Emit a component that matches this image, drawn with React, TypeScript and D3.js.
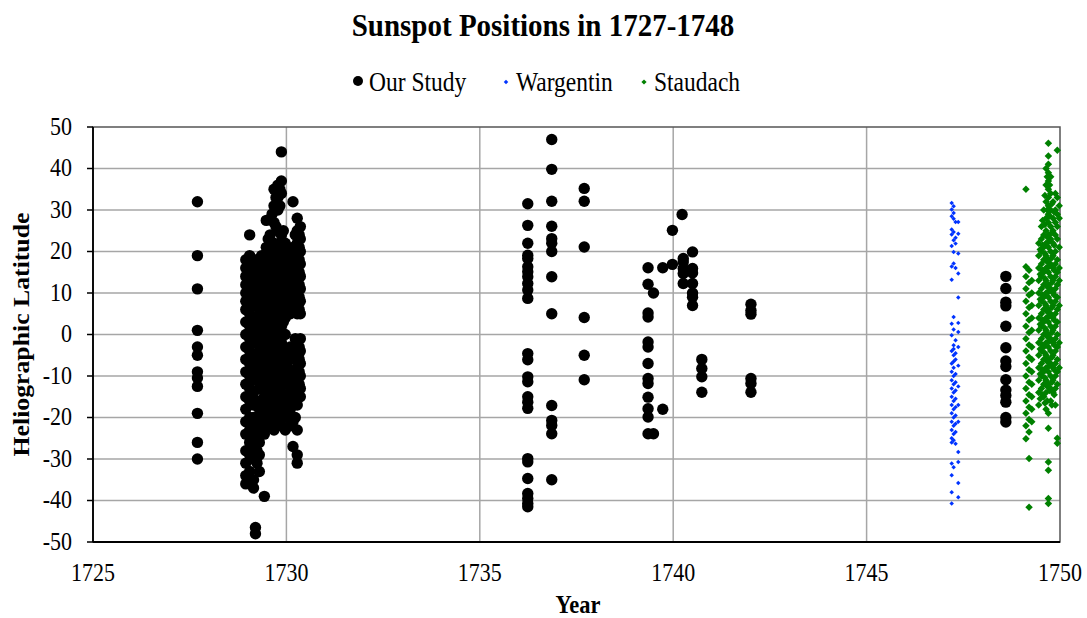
import React from 'react';
import * as d3 from 'd3';

// columns of points: [year, latitudes at that year]
const ourStudy: [number, number[]][] = [
  [1727.7, [32, 19, 11, 1, -3, -5, -9, -10.5, -12.5, -19, -26, -30]],
  [1728.95, [18, 16, 14, 12, 10, 8, 6, 3, 0, -3, -6, -9, -12, -15, -18, -21, -24, -28, -31, -34, -36]],
  [1729.05, [24, 19, 17, 15, 13, 11, 9, 7, 5, 2, -1, -4, -7, -10, -13, -16, -20, -23, -26, -29, -33]],
  [1729.15, [16, 14, 12, 9, 7, 4, 1, -2, -5, -8, -11, -14, -17, -20, -22, -25, -27, -30, -35, -37]],
  [1729.2, [-46.5, -48]],
  [1729.24, [18, 13, 8, 3, -1, -6, -11, -16, -20, -24, -28, -31]],
  [1729.3, [15, 10, 5, 0, -4, -9, -13, -18, -22, -26, -29, -33]],
  [1729.36, [19, 16, 11, 6, 1, -3, -8, -12, -17, -21]],
  [1729.43, [17, 13, 8, 3, -2, -6, -11, -15, -19, -24, -39]],
  [1729.48, [27.5, 21, 18, 14, 10, 6, 2, -3, -7, -11, -16, -20]],
  [1729.53, [23, 16, 12, 8, 4, 0, -5, -9, -13, -18, -22]],
  [1729.58, [24, 19, 16, 12, 9, 5, 1, -2, -6, -9, -13, -17, -21]],
  [1729.63, [29, 21, 17, 14, 10, 7, 3, -1, -4, -8, -11, -15, -19]],
  [1729.68, [35, 31, 27, 22, 19, 15, 12, 8, 4, 0, -4, -8, -12, -16, -19, -23]],
  [1729.73, [33, 26, 20, 16, 12, 9, 5, 2, -2, -6, -10, -14, -18]],
  [1729.78, [36, 33, 30, 25, 21, 17, 13, 10, 6, 3, -1, -5, -9, -13, -17, -21]],
  [1729.83, [35, 31, 22, 18, 15, 12, 8, 4, 0, -3, -7, -11, -15, -19]],
  [1729.87, [44, 37, 34, 24, 20, 17, 14, 11, 8, 5, 2, -2, -6, -10, -14, -18, -22]],
  [1729.92, [25, 21, 18, 15, 12, 9, 6, 3, -4, -8, -12, -16, -20]],
  [1729.97, [22, 19, 16, 13, 10, 7, 4, 0, -7, -11, -15, -19, -23]],
  [1730.03, [21, 18, 15, 12, 9, 6, -4, -8, -12, -16, -20]],
  [1730.1, [20, 17, 14, 11, 8, 5, -3, -6, -10, -14, -18, -22]],
  [1730.17, [32, 21, 16, 12, 9, -5, -9, -13, -17, -21, -27]],
  [1730.23, [24, 18, 15, 10, 6, -1, -6, -12, -16, -20]],
  [1730.28, [28, 25, 22, 19, 16, 13, 10, 7, 5, -2, -5, -8, -11, -14, -17, -23, -29, -31]],
  [1730.33, [24, 21, 18, 15, 12, 9, 6, -3, -6, -9, -12]],
  [1730.36, [26, 23, 20, 17, 14, 11, 8, 5, -1, -4, -7, -10, -13, -15]],
  [1736.24, [31.5, 26.3, 22, 19.1, 18.3, 16.3, 15.1, 13.9, 12.3, 10.7, 8.7, -4.6, -6.1, -10.2, -11.4, -15, -16.3, -17.8, -29.9, -30.7, -34.7, -38.3, -39.5, -40.7, -41.5]],
  [1736.86, [47, 39.8, 32.1, 26.1, 23.1, 22, 20, 13.9, 5, -17.1, -20.7, -21.9, -23.9, -35]],
  [1737.7, [35.2, 32.1, 21.1, 4.1, -5, -10.9]],
  [1739.35, [16.1, 12.1, 5.2, 4.2, -1.8, -3, -7, -10.6, -11.8, -15.1, -17.9, -19.9, -23.9]],
  [1739.49, [10, -23.9]],
  [1739.73, [16.1, -18]],
  [1739.98, [25.1, 16.9]],
  [1740.23, [28.9]],
  [1740.26, [18.3, 17.5, 15.9, 14.7, 12.3]],
  [1740.5, [19.9, 15.9, 14.8, 12.3, 10, 9, 7]],
  [1740.74, [-6, -8.2, -10.2, -13.9]],
  [1742.01, [7.3, 5.8, 4.9, -10.6, -11.8, -13.9]],
  [1748.6, [14, 11.1, 7.8, 6.9, 2, -3.2, -6.4, -7.7, -10.9, -13.4, -14.7, -16.3, -20, -21.1]],
];

const wargentin: [number, number[]][] = [
  [1747.2, [31.7, 30.1, 28.5, 25.3, 24.1, 21.3, 16.4, 13.2, 2.6, -0.2, -4, -7, -9, -11, -13, -15, -17, -19, -21, -23, -25, -26, -31.1, -33.9, -38, -40.7]],
  [1747.25, [30.9, 29.3, 27.9, 24.7, 22.7, 19.9, 17.1, 4.2, 1.2, -2.6, -3.5, -5, -6.5, -8, -10, -12, -14, -16, -18, -20, -22, -24, -25.5, -32]],
  [1747.3, [27.1, 23.3, 21.9, 16, -1.4, -4.5, -6, -9.5, -11.5, -13.5, -15.5, -17.5, -19.5, -21.5, -23.5, -26.3]],
  [1747.37, [27.1, 24.3, 19.5, 14.7, 8.9, 2.8, 0.6, -3, -7.5, -12.5, -17, -21, -28.3, -30.7, -35.8, -39.2]],
];

const staudach: [number, number[]][] = [
  [1749.12, [35, 16.3, 14, 11, 8, 5, 2, -1, -4, -7, -10, -13, -16, -19, -22, -25.1]],
  [1749.2, [15.5, 12.5, 9.5, 6.5, 3.5, 0.5, -2.5, -5.5, -8.5, -11.5, -14.5, -17.5, -20.5, -23.5, -29.9, -41.6]],
  [1749.27, [13, 10, 7, 4, 1, -3, -6, -9, -12, -15, -18, -21]],
  [1749.45, [22, 19, 16, 13, 10, 7, 4, 1, -2, -5, -8, -11, -14, -17]],
  [1749.49, [20.5, 14.5, 8.5, 2.5, -3.5, -9.5, -15.5]],
  [1749.52, [26, 23, 20, 17, 14, 11, 8, 5, 2, -1, -4, -7, -10, -13]],
  [1749.55, [27.5, 21.5, 15.5, 9.5, 3.5, -2.5, -8.5, -14.5]],
  [1749.58, [30, 24, 21, 18, 15, 12, 9, 6, 3, 0, -3, -6, -9, -12, -15]],
  [1749.61, [33.5, 26.5, 19.5, 13.5, 7.5, 1.5, -4.5, -10.5, -16.5]],
  [1749.64, [40, 36, 32, 28, 25, 22, 19, 16, 13, 10, 7, 4, 1, -2, -5, -8, -11, -14, -18]],
  [1749.67, [38, 30, 23.5, 17.5, 11.5, 5.5, -0.5, -6.5, -12.5, -16]],
  [1749.7, [46.1, 43, 41, 39, 37, 35, 33, 31, 29, 27, 24, 21, 18, 15, 12, 9, 6, 3, 0, -3, -6, -9, -12, -19, -22.6, -30.7, -32.7, -39.5, -40.7]],
  [1749.73, [36, 28.5, 22.5, 16.5, 10.5, 4.5, -1.5, -7.5, -13.5]],
  [1749.76, [38, 34, 30, 26, 23, 20, 17, 14, 11, 8, 5, 2, -1, -4, -7, -10, -13, -16]],
  [1749.79, [31.5, 24.5, 18.5, 12.5, 6.5, 0.5, -5.5, -11.5, -17]],
  [1749.82, [32, 28, 25, 22, 19, 16, 13, 10, 7, 4, 1, -2, -5, -8, -11, -14]],
  [1749.85, [29.5, 21.5, 15.5, 9.5, 3.5, -2.5, -8.5, -14.5]],
  [1749.88, [34, 30, 27, 24, 20, 17, 14, 11, 8, 5, 2, -1, -4, -7, -10, -13, -17]],
  [1749.93, [44.4, 33, 29, 26, 23, 18, 15, 12, 9, 6, 3, 0, -3, -6, -9, -12, -25, -26.2]],
  [1749.98, [31, 28, 21, 16, 13, 7, -2, -8]],
];

const xTicks = [1725, 1730, 1735, 1740, 1745, 1750];
const yTicks = [50, 40, 30, 20, 10, 0, -10, -20, -30, -40, -50];

const W = 1087;
const H = 618;
const left = 93;
const right = 1060;
const top = 127;
const bottom = 542;

const font = '"Liberation Serif", "Times New Roman", serif';

const flatten = (cols: [number, number[]][]) =>
  cols.flatMap(([yr, lats]) => lats.map((lat) => ({ yr, lat })));

// text in the source is drawn a little taller than it is wide
const Label = ({ x, y, size, bold, anchor = 'start', sy = 1.12, children }: any) => (
  <text
    transform={`translate(${x},${y}) scale(1,${sy})`}
    textAnchor={anchor}
    fontFamily={font}
    fontWeight={bold ? 'bold' : 'normal'}
    fontSize={size}
  >
    {children}
  </text>
);

export default function App() {
  const x = d3.scaleLinear().domain([1725, 1750]).range([left, right]);
  const y = d3.scaleLinear().domain([-50, 50]).range([bottom, top]);

  const bigDiamond = d3.symbol(d3.symbolSquare, 28)()!;
  const smallDiamond = d3.symbol(d3.symbolSquare, 10)()!;

  return (
    <svg width={W} height={H} style={{ position: 'absolute', left: 0, top: 0, background: '#fff' }}>
      <Label x={543} y={36} size={29} bold anchor="middle" sy={1.1}>
        Sunspot Positions in 1727-1748
      </Label>

      {/* legend */}
      <circle cx={358} cy={81} r={5} fill="#000" />
      <Label x={369} y={91} size={23.5}>Our Study</Label>
      <path d={smallDiamond} transform="translate(506,82) rotate(45)" fill="#0033ff" />
      <Label x={516} y={91} size={23.5}>Wargentin</Label>
      <path d={bigDiamond} transform="translate(644,82) rotate(45) scale(0.7)" fill="#008000" />
      <Label x={654} y={91} size={23.5}>Staudach</Label>

      {/* grid */}
      {yTicks.slice(1, -1).map((t) => (
        <line key={'gy' + t} x1={left} x2={right} y1={y(t)} y2={y(t)} stroke="#a6a6a6" strokeWidth={1.5} />
      ))}
      {xTicks.slice(1, -1).map((t) => (
        <line key={'gx' + t} x1={x(t)} x2={x(t)} y1={top} y2={bottom} stroke="#a6a6a6" strokeWidth={1.5} />
      ))}
      <rect x={left} y={top} width={right - left} height={bottom - top} fill="none" stroke="#555" strokeWidth={1.5} />

      {/* data */}
      <g>
        {flatten(ourStudy).map((d, i) => (
          <circle key={'o' + i} cx={x(d.yr)} cy={y(d.lat)} r={5.7} fill="#000" />
        ))}
        {flatten(wargentin).map((d, i) => (
          <path key={'w' + i} d={smallDiamond} transform={`translate(${x(d.yr)},${y(d.lat)}) rotate(45)`} fill="#0033ff" />
        ))}
        {flatten(staudach).map((d, i) => (
          <path key={'s' + i} d={bigDiamond} transform={`translate(${x(d.yr)},${y(d.lat)}) rotate(45)`} fill="#008000" />
        ))}
      </g>

      {/* axes */}
      <line x1={left} x2={left} y1={top} y2={bottom} stroke="#000" strokeWidth={1.8} />
      <line x1={left} x2={right} y1={bottom} y2={bottom} stroke="#000" strokeWidth={1.8} />
      {yTicks.map((t) => (
        <g key={'yt' + t}>
          <line x1={left - 6} x2={left} y1={y(t)} y2={y(t)} stroke="#000" strokeWidth={1.5} />
          <Label x={72} y={y(t) + 7.5} size={22} anchor="end">
            {t}
          </Label>
        </g>
      ))}
      {xTicks.map((t) => (
        <Label key={'xt' + t} x={x(t)} y={581} size={22} anchor="middle">
          {t}
        </Label>
      ))}

      <Label x={578} y={613} size={22.5} bold anchor="middle">
        Year
      </Label>
      <text
        transform={`translate(29,${(top + bottom) / 2}) rotate(-90) scale(1.12,1)`}
        textAnchor="middle"
        fontFamily={font}
        fontWeight="bold"
        fontSize={23}
      >
        Heliographic Latitude
      </text>
    </svg>
  );
}
